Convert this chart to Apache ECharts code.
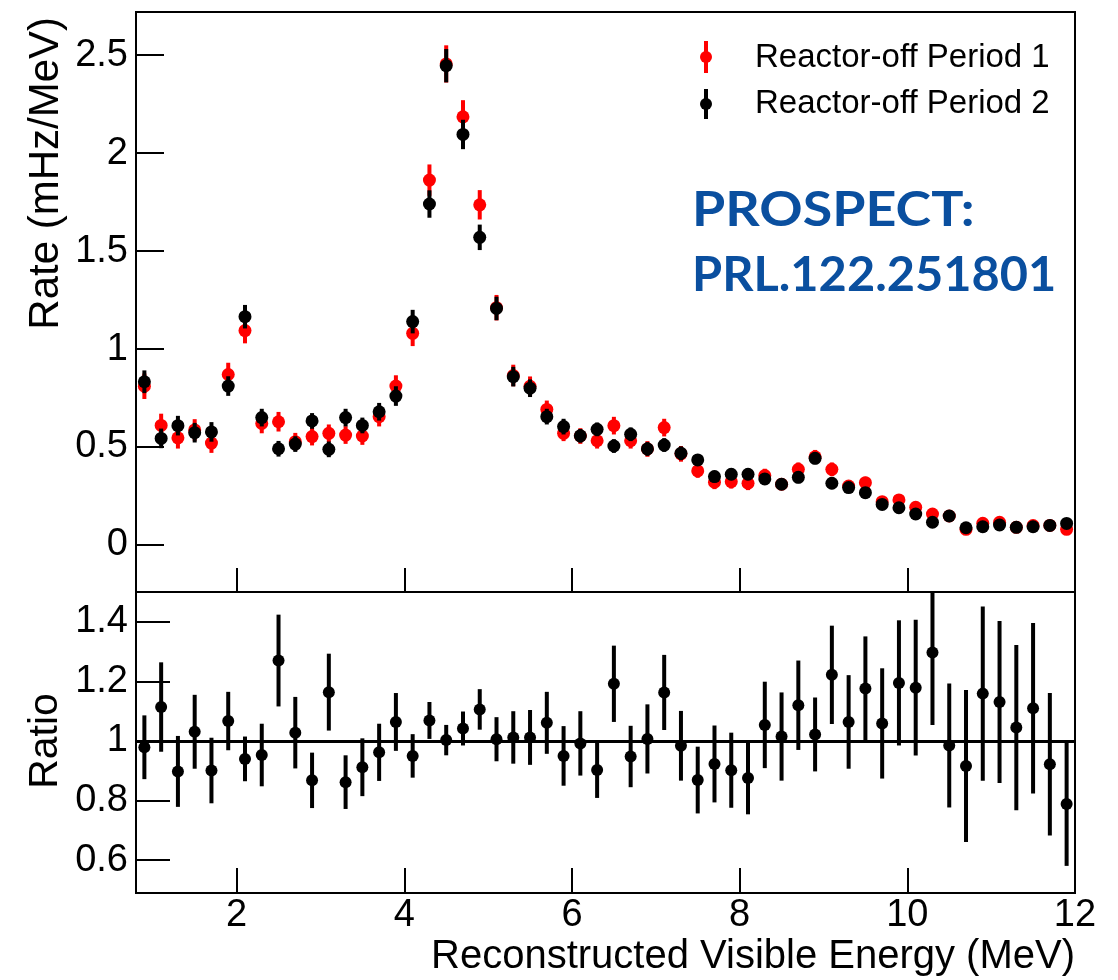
<!DOCTYPE html>
<html>
<head>
<meta charset="utf-8">
<script src="https://cdn.jsdelivr.net/npm/echarts@6/dist/echarts.min.js"></script>
<style>
html,body{margin:0;padding:0;background:#fff;}
#chart{width:1118px;height:980px;}
</style>
</head>
<body>
<div id="chart"></div>
<script>
// Bin centers (MeV)
var energy = [0.9,1.1,1.3,1.5,1.7,1.9,2.1,2.3,2.5,2.7,2.9,3.1,3.3,3.5,3.7,3.9,4.1,4.3,4.5,4.7,4.9,5.1,5.3,5.5,5.7,5.9,6.1,6.3,6.5,6.7,6.9,7.1,7.3,7.5,7.7,7.9,8.1,8.3,8.5,8.7,8.9,9.1,9.3,9.5,9.7,9.9,10.1,10.3,10.5,10.7,10.9,11.1,11.3,11.5,11.7,11.9];

// Reactor-off Period 1 (red) rate, mHz/MeV
var period1 = [0.81,0.61,0.547,0.587,0.52,0.87,1.094,0.62,0.629,0.527,0.553,0.57,0.561,0.556,0.655,0.811,1.08,1.862,2.455,2.185,1.736,1.211,0.865,0.81,0.692,0.57,0.556,0.532,0.609,0.532,0.49,0.599,0.465,0.378,0.32,0.323,0.315,0.354,0.31,0.386,0.45,0.386,0.301,0.318,0.221,0.23,0.192,0.158,0.148,0.08,0.111,0.116,0.09,0.099,0.1,0.08];
var period1Err = [0.065,0.06,0.055,0.055,0.05,0.06,0.065,0.05,0.05,0.045,0.045,0.045,0.045,0.045,0.05,0.055,0.065,0.08,0.095,0.085,0.075,0.065,0.055,0.05,0.045,0.04,0.04,0.04,0.045,0.04,0.04,0.045,0.04,0.035,0.035,0.035,0.035,0.035,0.03,0.035,0.035,0.035,0.03,0.03,0.028,0.028,0.025,0.025,0.025,0.02,0.02,0.02,0.02,0.02,0.02,0.02];

// Reactor-off Period 2 (black) rate, mHz/MeV
var period2 = [0.833,0.544,0.609,0.573,0.577,0.811,1.165,0.65,0.491,0.515,0.633,0.488,0.65,0.61,0.68,0.76,1.14,1.74,2.446,2.095,1.57,1.207,0.859,0.8,0.655,0.604,0.557,0.59,0.505,0.565,0.49,0.51,0.468,0.434,0.349,0.361,0.361,0.337,0.31,0.345,0.442,0.315,0.293,0.267,0.207,0.19,0.158,0.116,0.148,0.088,0.093,0.102,0.09,0.093,0.1,0.11];
var period2Err = [0.058,0.05,0.05,0.05,0.05,0.05,0.06,0.045,0.04,0.04,0.04,0.04,0.045,0.04,0.045,0.05,0.06,0.07,0.085,0.075,0.065,0.06,0.05,0.045,0.04,0.04,0.035,0.035,0.035,0.035,0.035,0.035,0.035,0.03,0.03,0.03,0.03,0.03,0.028,0.03,0.03,0.03,0.028,0.028,0.025,0.025,0.022,0.02,0.02,0.018,0.018,0.018,0.018,0.018,0.018,0.018];

// Ratio Period1 / Period2
var ratio = [0.979,1.114,0.898,1.031,0.901,1.067,0.94,0.953,1.27,1.028,0.868,1.164,0.862,0.912,0.962,1.064,0.95,1.069,1.003,1.042,1.106,1.006,1.012,1.012,1.061,0.95,0.992,0.903,1.192,0.948,1.007,1.163,0.984,0.869,0.923,0.902,0.876,1.054,1.015,1.12,1.022,1.222,1.064,1.176,1.059,1.195,1.179,1.297,0.985,0.916,1.159,1.131,1.045,1.11,0.922,0.789];
var ratioErr = [0.107,0.15,0.119,0.124,0.11,0.098,0.075,0.105,0.154,0.12,0.093,0.129,0.09,0.097,0.096,0.097,0.073,0.062,0.051,0.057,0.068,0.074,0.088,0.092,0.104,0.1,0.108,0.094,0.128,0.103,0.116,0.126,0.117,0.112,0.129,0.126,0.122,0.145,0.148,0.15,0.124,0.165,0.157,0.175,0.185,0.21,0.228,0.243,0.208,0.255,0.292,0.272,0.277,0.286,0.239,0.208];

var topTicksY = [0,0.5,1,1.5,2,2.5];
var ratioTicksY = [0.6,0.8,1,1.2,1.4];
var ticksX = [2,4,6,8,10,12];

var seriesNames = ['Reactor-off Period 1','Reactor-off Period 2'];

function triples(vals, errs){
  return energy.map(function(x,i){ return [x, vals[i], errs[i]]; });
}

function errRender(color, r, lw){
  return function(params, api){
    var x = api.value(0), y = api.value(1), e = api.value(2);
    var p = api.coord([x, y]);
    var lo = api.coord([x, y - e]);
    var hi = api.coord([x, y + e]);
    var cs = params.coordSys;
    var top = cs.y, bot = cs.y + cs.height;
    var y1 = Math.max(top, Math.min(bot, lo[1]));
    var y2 = Math.max(top, Math.min(bot, hi[1]));
    return {
      type: 'group',
      children: [
        {type:'line', shape:{x1:p[0], y1:y1, x2:p[0], y2:y2}, style:{stroke:color, lineWidth:lw}},
        {type:'circle', shape:{cx:p[0], cy:p[1], r:r}, style:{fill:color}}
      ]
    };
  };
}

var FONT = 'Liberation Sans';
var chart = echarts.init(document.getElementById('chart'), null, {renderer:'canvas'});

var axisCommonX = function(gi, showLabel, tickLen){
  return {
    gridIndex: gi, type:'value', min:0.8, max:12,
    axisLine:{show:true, onZero:false, lineStyle:{color:'#000', width:2}},
    axisTick:{show:true, inside:true, length:tickLen, customValues:ticksX, lineStyle:{color:'#000', width:2}},
    axisLabel:{show:showLabel, customValues:ticksX, fontSize:38, fontFamily:FONT, color:'#000', margin:4},
    splitLine:{show:false}
  };
};

var option = {
  animation:false,
  backgroundColor:'#fff',
  grid:[
    {left:136, top:12, width:939, height:580, show:true, borderColor:'#000', borderWidth:2, outerBoundsMode:'none'},
    {left:136, top:592, width:939, height:301, show:true, borderColor:'#000', borderWidth:2, outerBoundsMode:'none'}
  ],
  xAxis:[ axisCommonX(0,false,24), axisCommonX(1,true,25) ],
  yAxis:[
    {gridIndex:0, type:'value', min:-0.24, max:2.72,
     axisLine:{show:true, onZero:false, lineStyle:{color:'#000', width:2}},
     axisTick:{show:true, inside:true, length:28, customValues:topTicksY, lineStyle:{color:'#000', width:2}},
     axisLabel:{customValues:topTicksY, fontSize:38, fontFamily:FONT, color:'#000', margin:8},
     splitLine:{show:false}},
    {gridIndex:1, type:'value', min:0.49, max:1.5,
     axisLine:{show:true, onZero:false, lineStyle:{color:'#000', width:2}},
     axisTick:{show:true, inside:true, length:34, customValues:ratioTicksY, lineStyle:{color:'#000', width:2}},
     axisLabel:{customValues:ratioTicksY, fontSize:38, fontFamily:FONT, color:'#000', margin:8},
     splitLine:{show:false}}
  ],
  series:[
    {name:seriesNames[0], type:'custom', xAxisIndex:0, yAxisIndex:0,
     renderItem: errRender('#ff0000', 6.5, 4), data: triples(period1, period1Err), encode:{x:0, y:1}, z:2},
    {name:seriesNames[1], type:'custom', xAxisIndex:0, yAxisIndex:0,
     renderItem: errRender('#000000', 6.5, 4), data: triples(period2, period2Err), encode:{x:0, y:1}, z:3},
    {name:'Ratio', type:'custom', xAxisIndex:1, yAxisIndex:1,
     renderItem: errRender('#000000', 6, 4), data: triples(ratio, ratioErr), encode:{x:0, y:1}, z:3,
     markLine:{silent:true, symbol:['none','none'], label:{show:false},
       lineStyle:{color:'#000', width:3, type:'solid'}, data:[{yAxis:1}]}}
  ],
  graphic:[
    // legend
    {type:'line', shape:{x1:706, y1:41, x2:706, y2:73}, style:{stroke:'#ff0000', lineWidth:4}},
    {type:'circle', shape:{cx:706, cy:57, r:6}, style:{fill:'#ff0000'}},
    {type:'text', x:755, y:58, style:{text:seriesNames[0], font:'33px "Liberation Sans"', fill:'#000', textVerticalAlign:'middle'}},
    {type:'line', shape:{x1:706, y1:89, x2:706, y2:119}, style:{stroke:'#000', lineWidth:4}},
    {type:'circle', shape:{cx:706, cy:104, r:6}, style:{fill:'#000'}},
    {type:'text', x:755, y:104, style:{text:seriesNames[1], font:'33px "Liberation Sans"', fill:'#000', textVerticalAlign:'middle'}},
    // annotation
    {type:'text', x:692, y:211, scaleX:1.12, style:{text:'PROSPECT:', font:'bold 48px Lato', fill:'#0a4f9f', textVerticalAlign:'middle'}},
    {type:'text', x:692, y:276, scaleX:1.015, style:{text:'PRL.122.251801', font:'bold 48px Lato', fill:'#0a4f9f', textVerticalAlign:'middle'}},
    // axis titles
    {type:'text', x:46, y:17, rotation:Math.PI/2, style:{text:'Rate (mHz/MeV)', font:'42px "Liberation Sans"', fill:'#000', textAlign:'right', textVerticalAlign:'middle'}},
    {type:'text', x:46, y:741, rotation:Math.PI/2, style:{text:'Ratio', font:'41px "Liberation Sans"', fill:'#000', textAlign:'center', textVerticalAlign:'middle'}},
    {type:'text', x:1075, y:957, style:{text:'Reconstructed Visible Energy (MeV)', font:'40px "Liberation Sans"', fill:'#000', textAlign:'right', textVerticalAlign:'middle'}}
  ]
};
chart.setOption(option);
</script>
</body>
</html>
